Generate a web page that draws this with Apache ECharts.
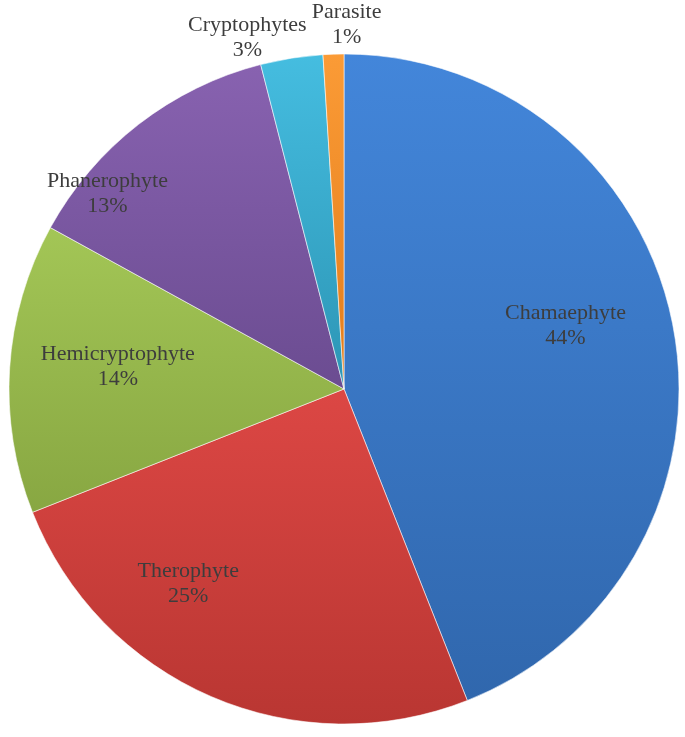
<!DOCTYPE html>
<html>
<head>
<meta charset="utf-8">
<script src="https://cdn.jsdelivr.net/npm/echarts@6/dist/echarts.min.js"></script>
<style>
  html, body { margin: 0; padding: 0; background: #fff; }
  #chart { width: 685px; height: 737px; }
</style>
</head>
<body>
<div id="chart"></div>
<script>
// life forms, clockwise from 12 o'clock
const categories = ['Chamaephyte', 'Therophyte', 'Hemicryptophyte', 'Phanerophyte', 'Cryptophytes', 'Parasite']
const shares = [44, 25, 14, 13, 3, 1]

// top / bottom tones of each slice
const topColors = ['#4386da', '#dc4744', '#a3c656', '#8862b0', '#45bde0', '#fb9b36']
const bottomColors = ['#3067ad', '#b93632', '#88a742', '#6b4c91', '#2c95b5', '#e27c1a']

// nudges of the labels away from the default inside spot
const labelOffsets = [[54, -31], [-88, 38], [-56, -12], [-132, -61], [-70, -183], [8, -194]]

const chart = echarts.init(document.getElementById('chart'))

const data = categories.map((name, i) => ({
  name: name,
  value: shares[i],
  itemStyle: {
    color: new echarts.graphic.LinearGradient(0, 0, 0, 1, [
      { offset: 0, color: topColors[i] },
      { offset: 1, color: bottomColors[i] },
    ]),
  },
  label: { offset: labelOffsets[i] },
}))

chart.setOption({
  animation: false,
  series: [
    {
      type: 'pie',
      center: [344, 389],
      radius: 335,
      startAngle: 90,
      clockwise: true,
      avoidLabelOverlap: false,
      itemStyle: {
        borderColor: 'rgba(255,255,255,0.55)',
        borderWidth: 1,
      },
      label: {
        show: true,
        position: 'inside',
        fontFamily: 'Liberation Serif',
        fontSize: 22,
        fontWeight: 'normal',
        lineHeight: 25,
        color: '#3d3d3d',
        textBorderWidth: 0,
        formatter: (p) => p.name + '\n' + Math.round(p.percent) + '%',
      },
      labelLine: { show: false },
      emphasis: { disabled: true },
      data: data,
    },
  ],
})
</script>
</body>
</html>
